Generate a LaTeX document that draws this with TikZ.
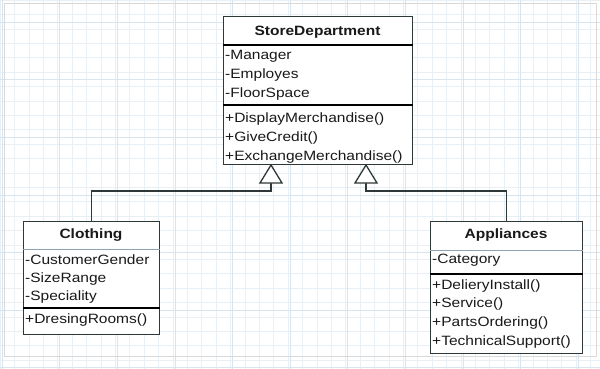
\documentclass[tikz,border=0pt]{standalone}
\usepackage{fontspec}
\usepackage{graphicx}
\setmainfont{Liberation Sans}
\newcommand{\tx}[1]{\scalebox{1.15}[1]{#1}}
\definecolor{edge}{HTML}{2F3838}
\definecolor{gridc}{HTML}{E8EFF5}
\definecolor{gridm}{HTML}{D9E5EE}
\definecolor{thin}{HTML}{8FA3B3}
\tikzset{
  x=1pt, y=-1pt,
  classbox/.style={draw=edge, line width=1.3pt, fill=white, inner sep=0pt, anchor=north west},
  member/.style={anchor=west, inner sep=0pt, font=\fontsize{13.5}{16}\selectfont, text=black!90},
  title/.style={inner sep=0pt, font=\fontsize{13.5}{16}\selectfont\bfseries, text=black!90},
  thickdiv/.style={draw=black, line width=2pt},
  thindiv/.style={draw=thin, line width=0.8pt},
  link/.style={draw=edge, line width=1.1pt},
  gen/.style={draw=edge, line width=1.3pt, fill=white, line join=miter}
}
\begin{document}
\begin{tikzpicture}
\useasboundingbox (0,0) rectangle (600,369);
\fill[white] (0,0) rectangle (600,369);
% background grid
\foreach \i in {0,...,42} {\draw[gridc, line width=0.4pt] (\i*14.4,0) -- (\i*14.4,369);}
\foreach \j in {0,...,25} {\draw[gridc, line width=0.4pt] (0,\j*14.4) -- (600,\j*14.4);}
\foreach \i in {0,...,10} {\draw[gridm, line width=0.6pt] (\i*57.6+2,0) -- (\i*57.6+2,369);}
\foreach \j in {0,...,6} {\draw[gridm, line width=0.6pt] (0,\j*57.6+22) -- (600,\j*57.6+22);}
\draw[black!15, line width=1pt] (4,4) rectangle (596,356);

% StoreDepartment
\node[classbox, minimum width=189pt, minimum height=148pt] (sd) at (223,16) {};
\node[title] (sdname) at (317.5,32) {\tx{StoreDepartment}};
\draw[thickdiv] (sd.west |- 0,45) -- (sd.east |- 0,45);
\draw[thickdiv] (sd.west |- 0,105) -- (sd.east |- 0,105);
\node[member] (sda1) at (225,56) {\tx{-Manager}};
\node[member] (sda2) at (225,75) {\tx{-Employes}};
\node[member] (sda3) at (225,94) {\tx{-FloorSpace}};
\node[member] (sdm1) at (225,119) {\tx{+DisplayMerchandise()}};
\node[member] (sdm2) at (225,138) {\tx{+GiveCredit()}};
\node[member] (sdm3) at (225,157) {\tx{+ExchangeMerchandise()}};

% Clothing
\node[classbox, minimum width=136pt, minimum height=113pt] (cloth) at (23,221) {};
\node[title] (clname) at (91,235) {\tx{Clothing}};
\draw[thindiv] (cloth.west |- 0,249) -- (cloth.east |- 0,249);
\draw[thickdiv] (cloth.west |- 0,308) -- (cloth.east |- 0,308);
\node[member] (cla1) at (25,260) {\tx{-CustomerGender}};
\node[member] (cla2) at (25,279) {\tx{-SizeRange}};
\node[member] (cla3) at (25,297) {\tx{-Speciality}};
\node[member] (clm1) at (25,320) {\tx{+DresingRooms()}};

% Appliances
\node[classbox, minimum width=152pt, minimum height=132pt] (appl) at (430,221) {};
\node[title] (apname) at (506,235) {\tx{Appliances}};
\draw[thindiv] (appl.west |- 0,250) -- (appl.east |- 0,250);
\draw[thickdiv] (appl.west |- 0,274) -- (appl.east |- 0,274);
\node[member] (apa1) at (432,260) {\tx{-Category}};
\node[member] (apm1) at (432,286) {\tx{+DelieryInstall()}};
\node[member] (apm2) at (432,304) {\tx{+Service()}};
\node[member] (apm3) at (432,323) {\tx{+PartsOrdering()}};
\node[member] (apm4) at (432,342) {\tx{+TechnicalSupport()}};

% generalization arrows
\coordinate (tl) at (271,183);
\coordinate (tr) at (366,183);
\draw[link] (tl) -- ++(0,8) -| (cloth.north);
\draw[link] (tr) -- ++(0,8) -| (appl.north);
\draw[gen] (tl) ++(0,-18) -- ++(11,18) -- ++(-22,0) -- cycle;
\draw[gen] (tr) ++(0,-18) -- ++(11,18) -- ++(-22,0) -- cycle;
\end{tikzpicture}
\end{document}
